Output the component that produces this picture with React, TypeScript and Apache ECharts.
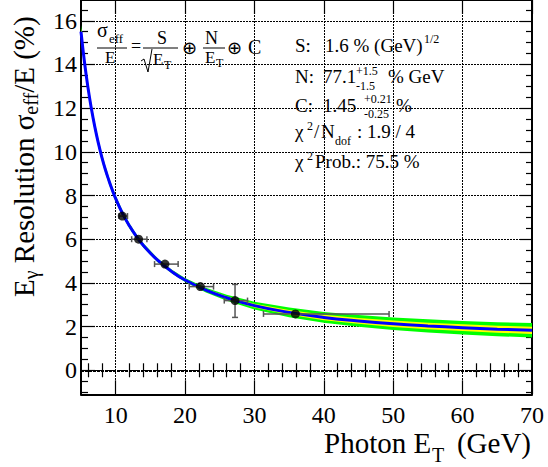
import React, { useEffect, useRef } from 'react';
import * as echarts from 'echarts';

// ---- data ----
const pointE = [10.95, 13.3, 17.1, 22.2, 27.2, 35.9];
const pointRes = [7.06, 6.0, 4.86, 3.83, 3.19, 2.58];
const pointELow = [10.5, 12.3, 15.6, 20.6, 25.65, 31.3];
const pointEHigh = [11.7, 14.5, 19.0, 24.1, 29.0, 49.4];
const pointResLow = [7.0, 5.95, 4.8, 3.78, 2.42, 2.53];
const pointResHigh = [7.12, 6.05, 4.92, 3.88, 3.93, 2.63];

const fitE = [5, 5.5, 6, 6.5, 7, 7.5, 8, 8.5, 9, 9.5, 10, 11, 12, 13, 14, 16, 18, 20, 23, 26, 30, 35, 40, 45, 50, 55, 60, 65, 70];
const fitRes = [15.5, 14.11, 12.95, 11.97, 11.13, 10.4, 9.76, 9.2, 8.71, 8.26, 7.86, 7.17, 6.6, 6.12, 5.71, 5.05, 4.54, 4.13, 3.67, 3.32, 2.96, 2.65, 2.42, 2.26, 2.13, 2.03, 1.95, 1.88, 1.83];
const band2Half = [0.3, 0.28, 0.25, 0.23, 0.21, 0.2, 0.18, 0.17, 0.16, 0.15, 0.14, 0.13, 0.12, 0.11, 0.1, 0.09, 0.09, 0.09, 0.11, 0.14, 0.18, 0.22, 0.25, 0.27, 0.29, 0.3, 0.31, 0.32, 0.33];
const band1Half = [0.15, 0.14, 0.13, 0.12, 0.11, 0.1, 0.09, 0.085, 0.08, 0.075, 0.07, 0.065, 0.06, 0.055, 0.05, 0.045, 0.045, 0.045, 0.055, 0.07, 0.09, 0.11, 0.125, 0.135, 0.145, 0.15, 0.155, 0.16, 0.165];

const xMajorTicks = [10, 20, 30, 40, 50, 60, 70];
const xMinorTicks = [6, 8, 12, 14, 16, 18, 22, 24, 26, 28, 32, 34, 36, 38, 42, 44, 46, 48, 52, 54, 56, 58, 62, 64, 66, 68];
const yMajorTicks = [0, 2, 4, 6, 8, 10, 12, 14, 16];
const yMinorTicks = [-1, -0.5, 0.5, 1, 1.5, 2.5, 3, 3.5, 4.5, 5, 5.5, 6.5, 7, 7.5, 8.5, 9, 9.5, 10.5, 11, 11.5, 12.5, 13, 13.5, 14.5, 15, 15.5, 16.5];

const X_MIN = 5;
const X_MAX = 70;
const Y_MIN = -1.1;
const Y_MAX = 16.95;

const FF = 'Liberation Serif';
const FSYM = 'DejaVu Sans';

function txt(text: string, x: number, base: number, size: number, align = 'left', family = FF) {
  return {
    type: 'text',
    x,
    y: base - 0.33 * size,
    z: 100,
    style: {
      text,
      fontSize: size,
      fontFamily: family,
      fill: '#000',
      align,
      verticalAlign: 'middle',
    },
  };
}

function hline(x1: number, x2: number, y: number) {
  return { type: 'line', z: 100, shape: { x1, y1: y, x2, y2: y }, style: { stroke: '#000', lineWidth: 1 } };
}

export default function App() {
  const ref = useRef<HTMLDivElement>(null);

  useEffect(() => {
    if (!ref.current) return;
    const chart = echarts.init(ref.current, undefined, { renderer: 'svg' });

    const axisBase = (position: string, min: number, max: number) => ({
      type: 'value',
      position,
      min,
      max,
      axisLine: { show: false },
      axisLabel: { show: false },
      splitLine: { show: false },
      axisTick: { show: false },
    });

    const tick = (values: number[], length: number) => ({
      show: true,
      inside: true,
      length,
      customValues: values,
      lineStyle: { color: '#000', width: 1.2 },
    });

    const frameLine = { show: true, onZero: false, lineStyle: { color: '#000', width: 2 } };
    const gridLine = { type: [2, 1] as any, color: '#000', width: 1 };

    const option: any = {
      animation: false,
      textStyle: { fontFamily: FF },
      grid: { left: 81, right: 16, top: -2, bottom: 72.7 },
      xAxis: [
        {
          ...axisBase('bottom', X_MIN, X_MAX),
          splitNumber: 6,
          axisLine: frameLine,
          axisTick: tick(xMajorTicks, 14),
          axisLabel: {
            show: true,
            customValues: xMajorTicks,
            fontSize: 24,
            fontFamily: FF,
            color: '#000',
            margin: 9,
          },
          splitLine: { show: true, lineStyle: gridLine },
        },
        { ...axisBase('bottom', X_MIN, X_MAX), axisTick: tick(xMinorTicks, 7) },
        { ...axisBase('top', X_MIN, X_MAX), axisLine: frameLine, axisTick: tick(xMajorTicks, 14) },
        { ...axisBase('top', X_MIN, X_MAX), axisTick: tick(xMinorTicks, 7) },
      ],
      yAxis: [
        {
          ...axisBase('left', Y_MIN, Y_MAX),
          splitNumber: 9,
          axisLine: frameLine,
          axisTick: tick(yMajorTicks, 14),
          axisLabel: {
            show: true,
            customValues: yMajorTicks,
            fontSize: 24,
            fontFamily: FF,
            color: '#000',
            margin: 4,
          },
          splitLine: { show: true, lineStyle: gridLine },
        },
        { ...axisBase('left', Y_MIN, Y_MAX), axisTick: tick(yMinorTicks, 7) },
        { ...axisBase('right', Y_MIN, Y_MAX), axisLine: frameLine, axisTick: tick(yMajorTicks, 12) },
        { ...axisBase('right', Y_MIN, Y_MAX), axisTick: tick(yMinorTicks, 6) },
      ],
      series: [
        {
          type: 'custom',
          name: 'band',
          xAxisIndex: 0,
          yAxisIndex: 0,
          clip: true,
          silent: true,
          z: 1,
          data: [[fitE[0], fitRes[0]]],
          renderItem: (_p: any, api: any) => {
            const up2 = fitE.map((e, i) => api.coord([e, fitRes[i] + band2Half[i]]));
            const lo2 = fitE.map((e, i) => api.coord([e, fitRes[i] - band2Half[i]])).reverse();
            const up1 = fitE.map((e, i) => api.coord([e, fitRes[i] + band1Half[i]]));
            const lo1 = fitE.map((e, i) => api.coord([e, fitRes[i] - band1Half[i]])).reverse();
            return {
              type: 'group',
              children: [
                { type: 'polygon', shape: { points: up2.concat(lo2) }, style: { fill: '#00ff00' } },
                { type: 'polygon', shape: { points: up1.concat(lo1) }, style: { fill: '#ffff00' } },
              ],
            };
          },
        },
        {
          type: 'line',
          name: 'fit',
          xAxisIndex: 0,
          yAxisIndex: 0,
          z: 2,
          showSymbol: false,
          symbol: 'none',
          smooth: true,
          silent: true,
          lineStyle: { color: '#0000ff', width: 3 },
          data: fitE.map((e, i) => [e, fitRes[i]]),
          markLine: {
            silent: true,
            symbol: 'none',
            label: { show: false },
            lineStyle: { color: '#000', type: [3, 1], width: 2 },
            data: [{ yAxis: 0 }],
          },
        },
        {
          type: 'custom',
          name: 'errors',
          xAxisIndex: 0,
          yAxisIndex: 0,
          z: 3,
          silent: true,
          encode: { x: 0, y: 1 },
          data: pointE.map((e, i) => [e, pointRes[i], pointELow[i], pointEHigh[i], pointResLow[i], pointResHigh[i]]),
          renderItem: (_p: any, api: any) => {
            const x = api.value(0);
            const y = api.value(1);
            const l = api.coord([api.value(2), y]);
            const r = api.coord([api.value(3), y]);
            const b = api.coord([x, api.value(4)]);
            const t = api.coord([x, api.value(5)]);
            const st = { stroke: '#555', lineWidth: 1.5 };
            const children: any[] = [
              { type: 'line', shape: { x1: l[0], y1: l[1], x2: r[0], y2: r[1] }, style: st },
              { type: 'line', shape: { x1: l[0], y1: l[1] - 3, x2: l[0], y2: l[1] + 3 }, style: st },
              { type: 'line', shape: { x1: r[0], y1: r[1] - 3, x2: r[0], y2: r[1] + 3 }, style: st },
            ];
            if (b[1] - t[1] > 8) {
              children.push(
                { type: 'line', shape: { x1: b[0], y1: b[1], x2: t[0], y2: t[1] }, style: st },
                { type: 'line', shape: { x1: b[0] - 3, y1: b[1], x2: b[0] + 3, y2: b[1] }, style: st },
                { type: 'line', shape: { x1: t[0] - 3, y1: t[1], x2: t[0] + 3, y2: t[1] }, style: st },
              );
            }
            return { type: 'group', children };
          },
        },
        {
          type: 'scatter',
          name: 'data',
          xAxisIndex: 0,
          yAxisIndex: 0,
          z: 4,
          silent: true,
          symbol: 'circle',
          symbolSize: 9,
          itemStyle: { color: '#000' },
          data: pointE.map((e, i) => [e, pointRes[i]]),
        },
      ],
      graphic: {
        elements: [
          // y-axis title
          {
            type: 'text',
            x: 24,
            y: 297,
            rotation: Math.PI / 2,
            z: 100,
            style: {
              text: '{m|E}{s|γ}{m| Resolution σ}{s|eff}{m|/E (%)}',
              fontSize: 29,
              fontFamily: FF,
              fill: '#000',
              align: 'left',
              verticalAlign: 'middle',
              rich: {
                m: { fontSize: 29, fontFamily: FF, lineHeight: 34, fill: '#000' },
                s: { fontSize: 20, fontFamily: FF, lineHeight: 12, verticalAlign: 'bottom', fill: '#000' },
              },
            },
          },
          // x-axis title
          txt('Photon E', 324, 453, 29),
          txt('T', 432, 462, 20),
          txt('(GeV)', 531, 453, 29, 'right'),
          // formula
          txt('σ', 97, 37, 20),
          txt('eff', 109, 43, 13),
          hline(97, 127, 48),
          txt('E', 105, 63, 17),
          txt('=', 136, 52, 18, 'center'),
          txt('S', 157, 43.5, 18),
          hline(143, 178, 48),
          {
            type: 'polyline',
            z: 100,
            shape: { points: [[141, 61], [144, 59], [148, 72], [152, 49]] },
            style: { stroke: '#000', lineWidth: 1, fill: 'none' },
          },
          txt('E', 153, 65, 17),
          txt('T', 164, 69, 12),
          txt('⊕', 189.5, 53, 18, 'center', FSYM),
          txt('N', 205, 43.5, 18),
          hline(203, 225, 48),
          txt('E', 205, 63, 17),
          txt('T', 216, 67, 12),
          txt('⊕', 234.5, 53, 18, 'center', FSYM),
          txt('C', 248, 53.5, 20),
          // fit parameters
          txt('S:', 295, 52, 19),
          txt('1.6 % (GeV)', 325, 52, 19),
          txt('1/2', 424, 43, 12),
          txt('N:', 295, 83, 19),
          txt('77.1', 323, 83, 19),
          txt('+1.5', 356, 75, 12),
          txt('-1.5', 356, 90, 12),
          txt('% GeV', 388, 83, 19),
          txt('C:', 295, 112, 19),
          txt('1.45', 323, 112, 19),
          txt('+0.21', 364, 103, 12),
          txt('-0.25', 364, 118, 12),
          txt('%', 396, 112, 19),
          txt('χ', 295, 138, 19),
          txt('2', 307, 130, 12),
          txt('/', 314, 138, 19),
          txt('N', 321, 138, 19),
          txt('dof', 335, 145, 12),
          txt(': 1.9 / 4', 357, 138, 19),
          txt('χ', 295, 168, 19),
          txt('2', 307, 160, 12),
          txt('Prob.: 75.5 %', 315, 168, 19),
        ],
      },
    };

    chart.setOption(option);
    return () => chart.dispose();
  }, []);

  return <div ref={ref} style={{ position: 'absolute', left: 0, top: 0, width: 548, height: 467 }} />;
}
